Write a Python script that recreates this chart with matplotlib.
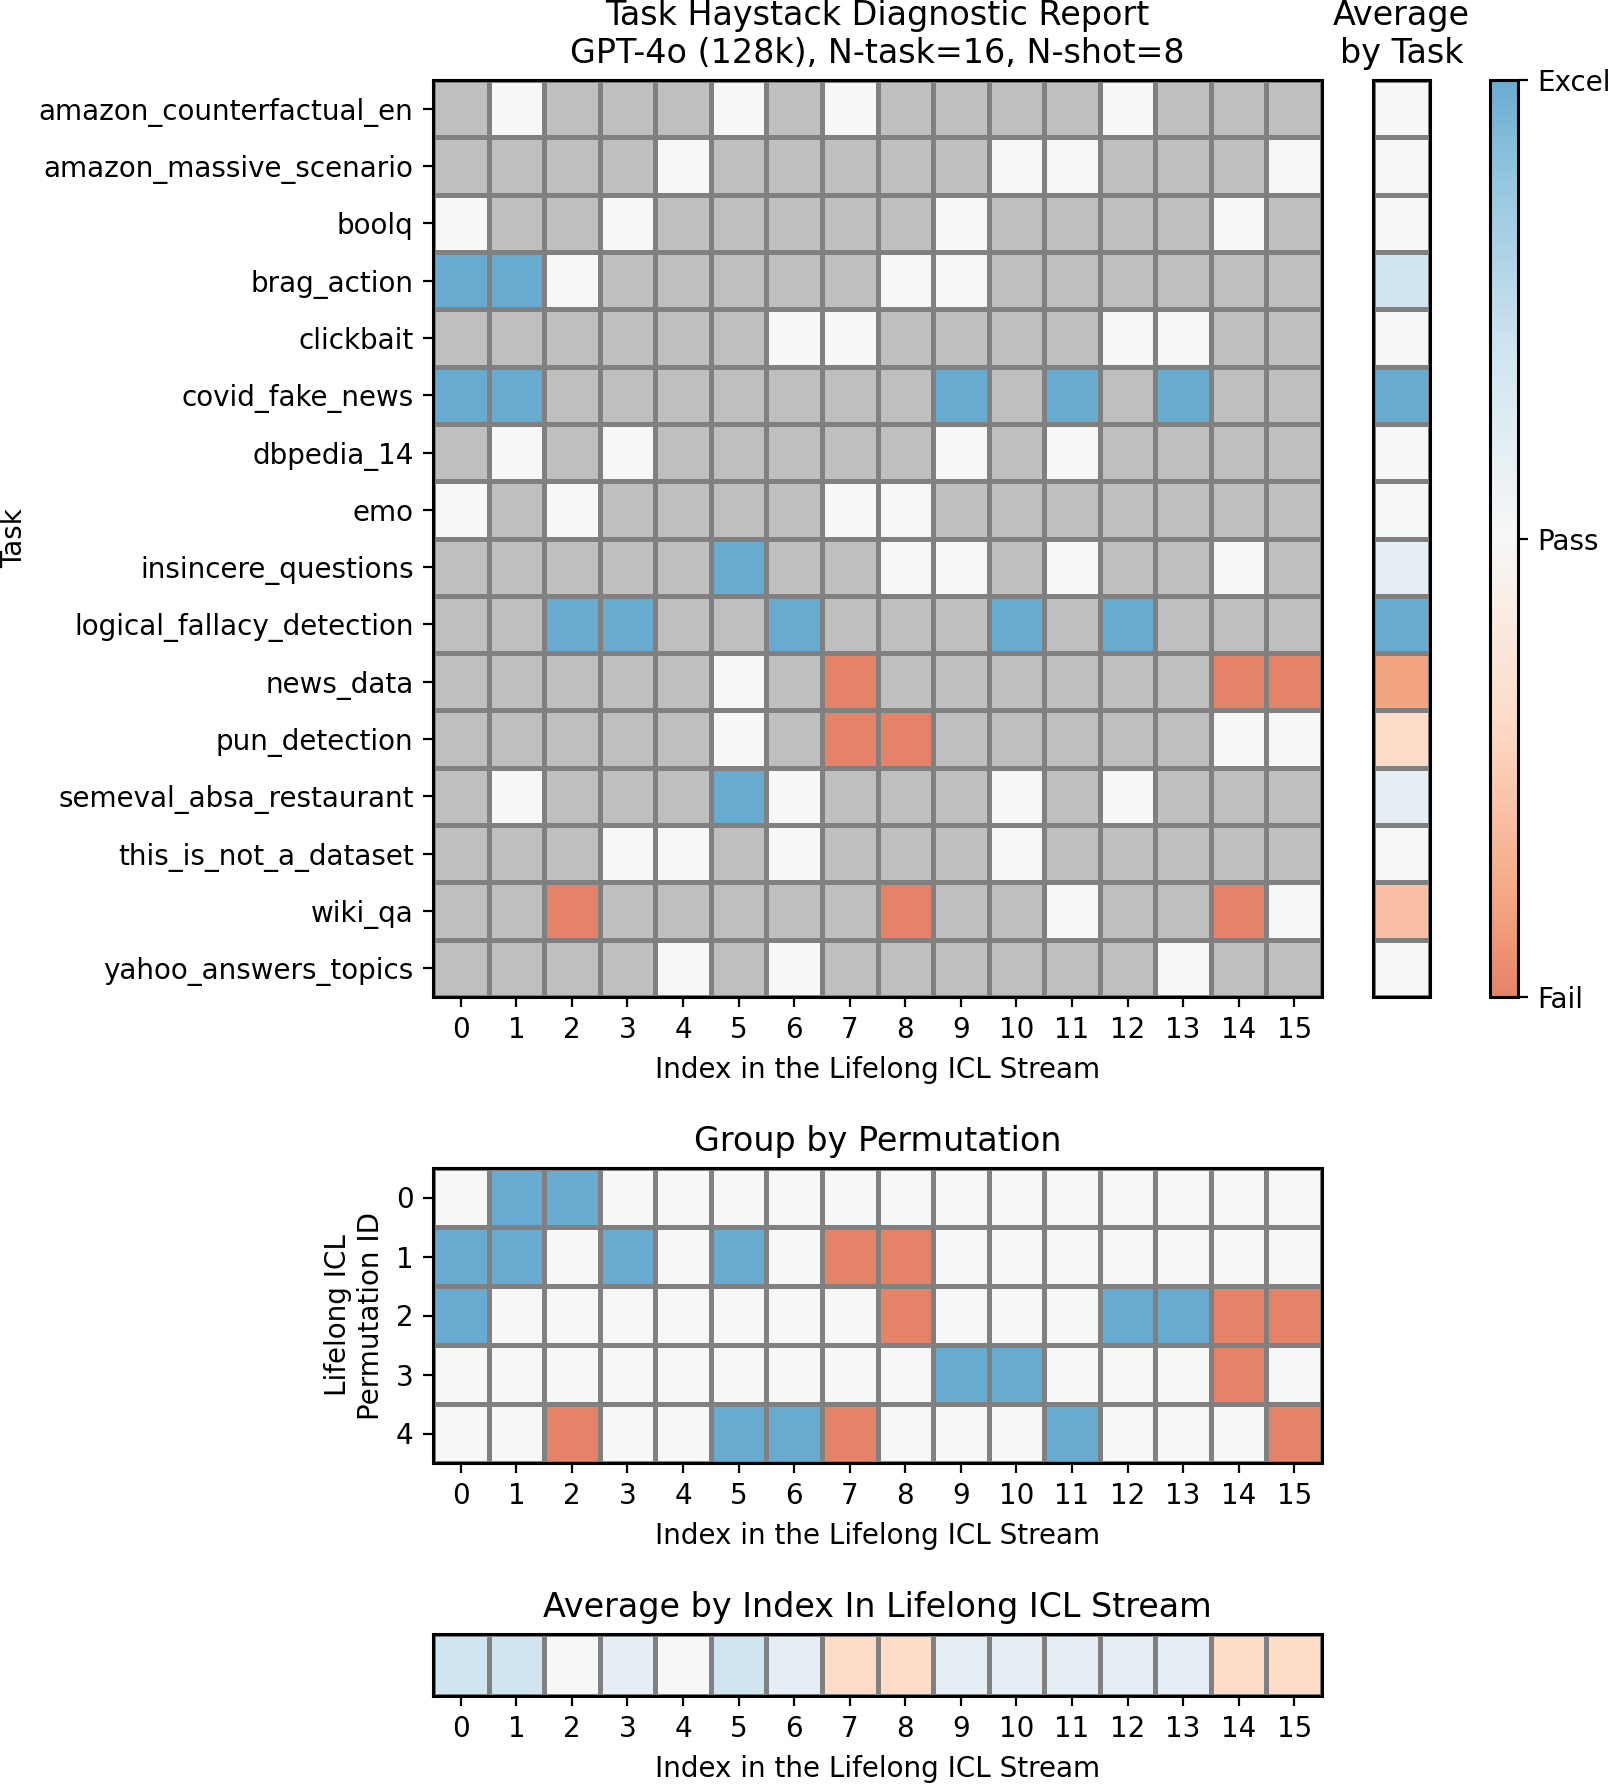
import numpy as np
import matplotlib
matplotlib.use("Agg")
import matplotlib.pyplot as plt
from matplotlib.colors import LinearSegmentedColormap

# ---------------- data ----------------
tasks = [
    "amazon_counterfactual_en", "amazon_massive_scenario", "boolq", "brag_action",
    "clickbait", "covid_fake_news", "dbpedia_14", "emo", "insincere_questions",
    "logical_fallacy_detection", "news_data", "pun_detection",
    "semeval_absa_restaurant", "this_is_not_a_dataset", "wiki_qa",
    "yahoo_answers_topics",
]
stream_index = list(range(16))
perm_ids = [0, 1, 2, 3, 4]

N = np.nan
# score per task (rows) and stream index (cols): 1 = excel, 0 = pass, -1 = fail, nan = absent
task_scores = [
    [N, 0, N, N, N, 0, N, 0, N, N, N, N, 0, N, N, N],
    [N, N, N, N, 0, N, N, N, N, N, 0, 0, N, N, N, 0],
    [0, N, N, 0, N, N, N, N, N, 0, N, N, N, N, 0, N],
    [1, 1, 0, N, N, N, N, N, 0, 0, N, N, N, N, N, N],
    [N, N, N, N, N, N, 0, 0, N, N, N, N, 0, 0, N, N],
    [1, 1, N, N, N, N, N, N, N, 1, N, 1, N, 1, N, N],
    [N, 0, N, 0, N, N, N, N, N, 0, N, 0, N, N, N, N],
    [0, N, 0, N, N, N, N, 0, 0, N, N, N, N, N, N, N],
    [N, N, N, N, N, 1, N, N, 0, 0, N, 0, N, N, 0, N],
    [N, N, 1, 1, N, N, 1, N, N, N, 1, N, 1, N, N, N],
    [N, N, N, N, N, 0, N, -1, N, N, N, N, N, N, -1, -1],
    [N, N, N, N, N, 0, N, -1, -1, N, N, N, N, N, 0, 0],
    [N, 0, N, N, N, 1, 0, N, N, N, 0, N, 0, N, N, N],
    [N, N, N, 0, 0, N, 0, N, N, N, 0, N, N, N, N, N],
    [N, N, -1, N, N, N, N, N, -1, N, N, 0, N, N, -1, 0],
    [N, N, N, N, 0, N, 0, N, N, N, N, N, N, 0, N, N],
]
task_average = [0, 0, 0, 0.4, 0, 1, 0, 0, 0.2, 1, -0.8, -0.4, 0.2, 0, -0.6, 0]

perm_scores = [
    [0, 1, 1, 0, 0, 0, 0, 0, 0, 0, 0, 0, 0, 0, 0, 0],
    [1, 1, 0, 1, 0, 1, 0, -1, -1, 0, 0, 0, 0, 0, 0, 0],
    [1, 0, 0, 0, 0, 0, 0, 0, -1, 0, 0, 0, 1, 1, -1, -1],
    [0, 0, 0, 0, 0, 0, 0, 0, 0, 1, 1, 0, 0, 0, -1, 0],
    [0, 0, -1, 0, 0, 1, 1, -1, 0, 0, 0, 1, 0, 0, 0, -1],
]
index_average = [0.4, 0.4, 0, 0.2, 0, 0.4, 0.2, -0.4, -0.4, 0.2, 0.2, 0.2, 0.2, 0.2, -0.4, -0.4]

cbar_ticks = [-1, 0, 1]
cbar_labels = ["Fail", "Pass", "Excel"]

# ---------------- style ----------------
W, H, DPI = 1611, 1784, 200
plt.rcParams["font.family"] = ["DejaVu Sans"]
plt.rcParams["font.size"] = 10

base = plt.get_cmap("RdBu")
cmap = LinearSegmentedColormap.from_list(
    "haystack", base(np.linspace(0.25, 0.75, 256)))
cmap.set_bad("#bfbfbf")
EDGE = "gray"
LW = 1.1

fig = plt.figure(figsize=(W / DPI, H / DPI), dpi=DPI)


def box(x0, y0, x1, y1):
    return [x0 / W, 1 - y1 / H, (x1 - x0) / W, (y1 - y0) / H]


def heat(ax, data):
    arr = np.ma.masked_invalid(np.array(data, dtype=float))
    m = ax.pcolormesh(arr, cmap=cmap, vmin=-1, vmax=1,
                      edgecolors=EDGE, linewidth=LW)
    ax.set_xlim(0, arr.shape[1])
    ax.set_ylim(arr.shape[0], 0)
    for s in ax.spines.values():
        s.set_color("black")
        s.set_linewidth(1.1)
    return m


# main heatmap
ax_main = fig.add_axes(box(433, 80, 1322, 997))
mesh = heat(ax_main, task_scores)
ax_main.set_xticks(np.arange(len(stream_index)) + 0.5)
ax_main.set_xticklabels([str(i) for i in stream_index])
ax_main.set_yticks(np.arange(len(tasks)) + 0.5)
ax_main.set_yticklabels(tasks)
ax_main.set_xlabel("Index in the Lifelong ICL Stream")
ax_main.set_ylabel("Task")
ax_main.set_title("Task Haystack Diagnostic Report\nGPT-4o (128k), N-task=16, N-shot=8",
                  fontsize=12)

# average by task
ax_avg = fig.add_axes(box(1373, 80, 1430, 997))
heat(ax_avg, [[v] for v in task_average])
ax_avg.set_xticks([])
ax_avg.set_yticks([])
ax_avg.set_title("Average\nby Task", fontsize=12)

# colorbar
ax_cb = fig.add_axes(box(1490, 80, 1518, 997))
cb = fig.colorbar(mesh, cax=ax_cb, ticks=cbar_ticks)
cb.ax.set_yticklabels(cbar_labels)
cb.outline.set_linewidth(1.1)

# group by permutation
ax_perm = fig.add_axes(box(433, 1168, 1322, 1463))
heat(ax_perm, perm_scores)
ax_perm.set_xticks(np.arange(len(stream_index)) + 0.5)
ax_perm.set_xticklabels([str(i) for i in stream_index])
ax_perm.set_yticks(np.arange(len(perm_ids)) + 0.5)
ax_perm.set_yticklabels([str(p) for p in perm_ids])
ax_perm.set_xlabel("Index in the Lifelong ICL Stream")
ax_perm.set_ylabel("Lifelong ICL\nPermutation ID")
ax_perm.set_title("Group by Permutation", fontsize=12)

# average by index
ax_idx = fig.add_axes(box(433, 1634, 1322, 1696))
heat(ax_idx, [index_average])
ax_idx.set_xticks(np.arange(len(stream_index)) + 0.5)
ax_idx.set_xticklabels([str(i) for i in stream_index])
ax_idx.set_yticks([])
ax_idx.set_xlabel("Index in the Lifelong ICL Stream")
ax_idx.set_title("Average by Index In Lifelong ICL Stream", fontsize=12)

fig.savefig("out.png", dpi=DPI)
